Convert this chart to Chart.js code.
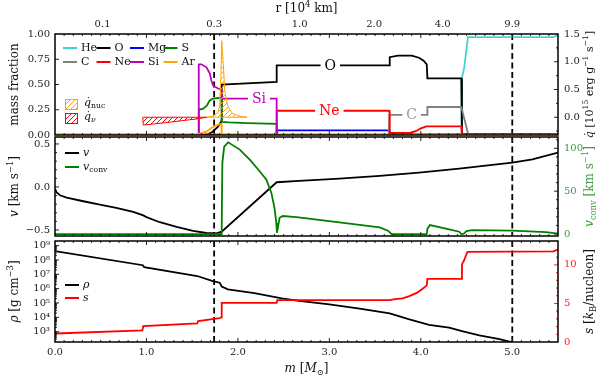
<!DOCTYPE html>
<html>
<head>
<meta charset="utf-8">
<script src="https://cdn.jsdelivr.net/npm/chart.js@4.4.1/dist/chart.umd.min.js"></script>
<style>
  body { margin: 0; background: #fff; }
  #wrap { position: relative; width: 604px; height: 380px; }
  #wrap canvas { position: absolute; left: 0; top: 0; }
</style>
</head>
<body>
<div id="wrap">
  <canvas id="c1" width="604" height="380"></canvas>
  <canvas id="c2" width="604" height="380"></canvas>
  <canvas id="c3" width="604" height="380"></canvas>
</div>
<script>
// ---- panel 1: mass fractions (x = enclosed mass in Msun) ----
const mHe = [0, 4.44, 4.445, 4.475, 4.515, 5.45, 5.5]
const xHe = [0, 0, 0.55, 0.67, 0.97, 0.97, 0.99]
const mO = [0, 1.60, 1.66, 1.72, 1.78, 1.81, 1.823, 1.823, 2.424, 2.424, 3.657, 3.66, 3.75, 3.90, 3.98, 4.03, 4.065, 4.072, 4.443, 4.45, 5.5]
const xO = [0, 0, 0.005, 0.03, 0.08, 0.12, 0.145, 0.50, 0.525, 0.69, 0.69, 0.77, 0.785, 0.785, 0.765, 0.735, 0.70, 0.56, 0.56, 0, 0]
const mMg = [0, 2.424, 2.424, 3.657, 3.66, 5.5]
const xMg = [0, 0, 0.045, 0.045, 0.005, 0.005]
const mS = [0, 1.565, 1.572, 1.62, 1.66, 1.69, 1.725, 1.823, 1.823, 1.9, 2.1, 2.424, 2.424, 5.5]
const xS = [0, 0, 0.25, 0.26, 0.29, 0.34, 0.36, 0.37, 0.13, 0.125, 0.118, 0.11, 0, 0]
const mC = [0, 3.65, 3.657, 4.072, 4.072, 4.443, 4.47, 4.52, 5.5]
const xC = [0.005, 0.005, 0.2, 0.2, 0.277, 0.277, 0.18, 0, 0]
const mNe = [0, 2.424, 2.424, 3.657, 3.66, 3.88, 3.95, 4.0, 4.06, 4.443, 4.45, 5.5]
const xNe = [0, 0, 0.24, 0.24, 0.02, 0.02, 0.04, 0.065, 0.085, 0.085, 0.01, 0.01]
const mSi = [0, 1.565, 1.572, 1.60, 1.656, 1.692, 1.71, 1.728, 1.783, 1.823, 1.823, 2.424, 2.424, 5.5]
const xSi = [0, 0, 0.70, 0.70, 0.67, 0.61, 0.54, 0.49, 0.46, 0.45, 0.36, 0.36, 0, 0]
const mAr = [0, 1.565, 1.572, 1.65, 1.71, 1.78, 1.82, 1.823, 5.5]
const xAr = [0, 0, 0.01, 0.03, 0.07, 0.10, 0.11, 0, 0]

// heating / cooling rates, 1e15 erg/g/s
const mQnuc = [1.66, 1.72, 1.78, 1.80, 1.815, 1.823, 1.84, 1.855, 1.89, 1.94, 2.02, 2.1]
const qNuc = [0, 0.02, 0.08, 0.2, 0.8, 1.38, 0.97, 0.49, 0.19, 0.07, 0.02, 0]
const mQnu = [0.96, 0.965, 1.2, 1.4, 1.55, 1.66]
const qNu = [0, -0.14, -0.10, -0.06, -0.03, 0]

// ---- panel 2: velocities ----
const mV = [0, 0.018, 0.055, 0.127, 0.31, 0.49, 0.67, 0.855, 0.965, 1.0, 1.146, 1.33, 1.51, 1.656, 1.765, 1.823, 2.424, 2.67, 3.11, 3.55, 3.98, 4.42, 5.0, 5.22, 5.5]
const vel = [-0.02, -0.065, -0.097, -0.123, -0.166, -0.205, -0.244, -0.29, -0.33, -0.35, -0.41, -0.465, -0.51, -0.535, -0.54, -0.52, 0.055, 0.07, 0.098, 0.128, 0.167, 0.214, 0.283, 0.32, 0.40]
const mVc = [0, 1.818, 1.823, 1.83, 1.85, 1.893, 2.02, 2.13, 2.24, 2.31, 2.366, 2.40, 2.42, 2.427, 2.456, 2.49, 2.64, 3.11, 3.55, 3.64, 3.68, 4.065, 4.072, 4.1, 4.31, 4.42, 4.443, 4.47, 4.50, 4.56, 5.0, 5.37, 5.5]
const vConv = [0, 0, 10, 83, 102, 107, 98.5, 86.8, 73, 63.6, 48, 30.6, 13, 1.5, 19, 21, 19.8, 13.6, 7.8, 3.9, 0, 0, 6, 10.5, 5.4, 2.7, 0, 0.5, 3.5, 4.6, 4, 2.3, 0.5]

// ---- panel 3: density and entropy ----
const mRho = [0, 0.96, 0.975, 1.555, 1.725, 1.80, 1.823, 1.89, 2.18, 2.48, 2.67, 3.0, 3.33, 3.66, 3.875, 4.09, 4.31, 4.45, 4.64, 4.86, 5.0, 5.5]
const rho = [4.2e8, 4.3e7, 3.2e7, 7.6e6, 3.4e6, 2.6e6, 1.4e6, 8.9e5, 4.8e5, 2.1e5, 1.4e5, 8.1e4, 4.0e4, 1.9e4, 7.2e3, 3.0e3, 1.9e3, 1.1e3, 5.6e2, 3.0e2, 1.8e2, 2.0e1]
const mEnt = [0, 0.955, 0.965, 1.555, 1.565, 1.80, 1.818, 1.823, 2.424, 2.43, 3.66, 3.72, 3.80, 3.875, 3.96, 4.02, 4.065, 4.072, 4.443, 4.45, 4.47, 4.51, 5.45, 5.5]
const ent = [1.1, 1.5, 2.05, 2.4, 2.7, 3.1, 3.2, 5.08, 5.08, 5.44, 5.44, 5.55, 5.65, 5.96, 6.4, 6.9, 7.35, 8.2, 8.2, 10.1, 10.5, 11.7, 11.75, 12.0]

// top axis: radius (1e4 km) at given mass coordinate
const rTickM = [0.52, 1.74, 2.675, 3.49, 4.24, 5.0]
const rTickLabels = ['0.1', '0.3', '1.0', '2.0', '4.0', '9.9']
const markers = [1.74, 5.0]

const spNames = ['He', 'O', 'Mg', 'S', 'C', 'Ne', 'Si', 'Ar']
const spColors = ['#48d1cc', '#000000', '#0000ff', '#008000', '#808080', '#ff0000', '#c000c0', '#ffa500']
const spM = [mHe, mO, mMg, mS, mC, mNe, mSi, mAr]
const spX = [xHe, xO, xMg, xS, xC, xNe, xSi, xAr]

const inlineText = ['O', 'Si', 'Ne', 'C']
const inlineM = [3.01, 2.23, 3.0, 3.9]
const inlineY = [0.69, 0.36, 0.24, 0.2]
const inlineColor = ['#000', '#c000c0', '#ff0000', '#999']

const SERIF = '"DejaVu Serif"'
const tickFont = { family: 'DejaVu Serif', size: 10 }
const GREEN = '#008000'
const SUPS = '⁰¹²³⁴⁵⁶⁷⁸⁹'
const sup = n => String(n).split('').map(d => SUPS[+d]).join('')
const isMult = (v, s) => Math.abs(v / s - Math.round(v / s)) < 1e-6
const fmtSigned = v => (v < -1e-9 ? '\u2212' : '') + Math.abs(v).toFixed(1)

Chart.defaults.font.family = 'DejaVu Serif'
Chart.defaults.animation = false

function hatch(ctx, color) {
  const t = document.createElement('canvas')
  t.width = 5; t.height = 5
  const g = t.getContext('2d')
  g.strokeStyle = color; g.lineWidth = 1
  g.beginPath()
  g.moveTo(0, 5); g.lineTo(5, 0)
  g.moveTo(-1, 1); g.lineTo(1, -1)
  g.moveTo(4, 6); g.lineTo(6, 4)
  g.stroke()
  return ctx.createPattern(t, 'repeat')
}

function line(ms, vals, color, yAxisID, order, extra) {
  return Object.assign({
    data: ms.map((m, i) => ({ x: m, y: vals[i] })),
    borderColor: color, borderWidth: 1.8, pointRadius: 0, tension: 0,
    fill: false, yAxisID: yAxisID, order: order
  }, extra || {})
}

function mAxis(h, show) {
  return {
    type: 'linear', position: 'bottom', min: 0, max: 5.5,
    grid: { display: false, drawTicks: false }, border: { display: false },
    ticks: {
      stepSize: 0.1, autoSkip: false, maxRotation: 0, display: show, padding: 4,
      includeBounds: false, font: tickFont, color: '#222',
      callback: v => isMult(v, 1) ? v.toFixed(1) : ''
    },
    afterFit: s => { s.height = h }
  }
}

function yAxis(pos, w, min, max, step, cb, color) {
  return {
    type: 'linear', position: pos, min: min, max: max,
    grid: { display: false, drawTicks: false }, border: { display: false },
    ticks: {
      stepSize: step, autoSkip: false, includeBounds: false, padding: pos === 'left' ? 5 : 6,
      font: tickFont, color: color || '#222', callback: cb
    },
    afterFit: s => { s.width = w }
  }
}

// rich text: parts = [text, style]; style r | i | sup | sub | isub
function drawRich(ctx, parts, x, y, rot, color, size, align) {
  const fontFor = st => {
    const small = st === 'sup' || st === 'sub' || st === 'isub'
    const it = st === 'i' || st === 'isub' ? 'italic ' : ''
    return it + (small ? size * 0.7 : size) + 'px ' + SERIF
  }
  ctx.save()
  let w = 0
  parts.forEach(p => { ctx.font = fontFor(p[1]); w += ctx.measureText(p[0]).width })
  ctx.translate(x, y)
  ctx.rotate(rot)
  ctx.fillStyle = color
  ctx.textBaseline = 'middle'
  ctx.textAlign = 'left'
  let cx = align === 'left' ? 0 : -w / 2
  parts.forEach(p => {
    ctx.font = fontFor(p[1])
    let dy = 0
    if (p[1] === 'sup') dy = -size * 0.35
    if (p[1] === 'sub' || p[1] === 'isub') dy = size * 0.28
    ctx.fillText(p[0], cx, dy)
    cx += ctx.measureText(p[0]).width
  })
  ctx.restore()
}

function legendLine(ctx, x, y, color, parts) {
  ctx.save()
  ctx.strokeStyle = color; ctx.lineWidth = 2
  ctx.beginPath(); ctx.moveTo(x, y); ctx.lineTo(x + 14, y); ctx.stroke()
  ctx.restore()
  drawRich(ctx, parts, x + 18, y, 0, '#111', 11, 'left')
}

// frame, inward ticks and the dashed marker lines
const frame = {
  id: 'frame',
  beforeDatasetsDraw(chart) {
    const { ctx, chartArea: a } = chart
    const xs = chart.scales.x
    ctx.save()
    ctx.strokeStyle = '#000'; ctx.lineWidth = 1.8; ctx.setLineDash([6, 3.5])
    markers.forEach(m => {
      const px = xs.getPixelForValue(m)
      ctx.beginPath(); ctx.moveTo(px, a.top); ctx.lineTo(px, a.bottom); ctx.stroke()
    })
    ctx.restore()
  },
  afterDraw(chart) {
    const { ctx, chartArea: a } = chart
    ctx.save()
    Object.values(chart.scales).forEach(sc => {
      if (sc.id === 'xr') return
      const horiz = sc.isHorizontal()
      ctx.strokeStyle = sc.id === 's' ? '#f22' : '#222'
      ctx.lineWidth = 1
      sc.ticks.forEach(t => {
        const p = sc.getPixelForValue(t.value)
        if (horiz ? (p < a.left + 1 || p > a.right - 1) : (p < a.top + 1 || p > a.bottom - 1)) return
        const len = t.label !== '' ? 4 : 2
        ctx.beginPath()
        if (horiz) {
          ctx.moveTo(p, a.bottom); ctx.lineTo(p, a.bottom - len)
          ctx.moveTo(p, a.top); ctx.lineTo(p, a.top + len)
        } else if (sc.position === 'left') {
          ctx.moveTo(a.left, p); ctx.lineTo(a.left + len, p)
        } else {
          ctx.moveTo(a.right, p); ctx.lineTo(a.right - len, p)
        }
        ctx.stroke()
      })
    })
    ctx.lineWidth = 1.5; ctx.strokeStyle = '#000'
    ctx.strokeRect(a.left, a.top, a.right - a.left, a.bottom - a.top)
    ctx.restore()
  }
}

const baseOpts = (padding, scales) => ({
  responsive: false, animation: false, events: [],
  layout: { padding: padding },
  plugins: { legend: { display: false }, tooltip: { enabled: false } },
  scales: scales
})

// ---------- chart 1 ----------
const ctx1 = document.getElementById('c1').getContext('2d')
const hatchNuc = hatch(ctx1, '#ffa500')
const hatchNu = hatch(ctx1, '#ff0000')

const ds1 = spNames.map((n, i) => line(spM[i], spX[i], spColors[i], 'y', 50 - i))
ds1.push(line(mQnuc, qNuc, '#ffa500', 'yq', 5, { borderWidth: 1, fill: { value: 0 }, backgroundColor: hatchNuc }))
ds1.push(line(mQnuc, mQnuc.map(() => 0), '#ffa500', 'yq', 5, { borderWidth: 1 }))
ds1.push(line(mQnu, qNu, '#ff0000', 'yq', 6, { borderWidth: 1, fill: { value: 0 }, backgroundColor: hatchNu }))
ds1.push(line(mQnu, mQnu.map(() => 0), '#ff0000', 'yq', 6, { borderWidth: 1 }))

new Chart(ctx1, {
  type: 'line',
  data: { datasets: ds1 },
  options: baseOpts({ top: 0, left: 0, right: 0, bottom: 245 }, {
    x: mAxis(0, false),
    xr: {
      type: 'linear', position: 'top', min: 0, max: 5.5,
      grid: { display: false, drawTicks: false }, border: { display: false },
      afterBuildTicks: s => { s.ticks = rTickM.map(v => ({ value: v })) },
      ticks: {
        autoSkip: false, maxRotation: 0, padding: 4, font: tickFont, color: '#222',
        callback: (v, i) => rTickLabels[i]
      },
      afterFit: s => { s.height = 34 }
    },
    y: yAxis('left', 55, 0, 1, 0.25, v => v.toFixed(2)),
    yq: yAxis('right', 46, -0.32, 1.5, 0.25, v => (v > -1e-9 && isMult(v, 0.5)) ? v.toFixed(1) : '')
  }),
  plugins: [frame, {
    id: 'extra1',
    afterDraw(chart) {
      const ctx = chart.ctx, xs = chart.scales.x, ys = chart.scales.y, a = chart.chartArea
      ctx.save()
      ctx.font = '14px ' + SERIF
      ctx.textAlign = 'center'; ctx.textBaseline = 'middle'
      inlineText.forEach((t, i) => {
        const px = xs.getPixelForValue(inlineM[i]), py = ys.getPixelForValue(inlineY[i])
        const w = ctx.measureText(t).width + 8
        ctx.fillStyle = '#fff'
        ctx.fillRect(px - w / 2, py - 6, w, 12)
        ctx.fillStyle = inlineColor[i]
        ctx.fillText(t, px, py + 1)
      })
      ctx.restore()

      spNames.forEach((n, i) => {
        legendLine(ctx, 63 + 33.5 * (i % 4), 48 + 14 * Math.floor(i / 4), spColors[i], [[n, 'r']])
      })
      ctx.save()
      ctx.fillStyle = hatchNuc; ctx.fillRect(65, 99, 12, 10)
      ctx.strokeStyle = '#ffa500'; ctx.lineWidth = 1; ctx.strokeRect(65.5, 99.5, 12, 10)
      ctx.fillStyle = hatchNu; ctx.fillRect(65, 113, 12, 10)
      ctx.strokeStyle = '#ff0000'; ctx.strokeRect(65.5, 113.5, 12, 10)
      ctx.restore()
      drawRich(ctx, [['q\u0307', 'i'], ['nuc', 'sub']], 84, 103, 0, '#111', 11, 'left')
      drawRich(ctx, [['q\u0307', 'i'], ['\u03bd', 'isub']], 84, 117, 0, '#111', 11, 'left')

      const cy = (a.top + a.bottom) / 2
      drawRich(ctx, [['mass fraction', 'r']], 15, cy, -Math.PI / 2, '#111', 12)
      drawRich(ctx, [['q\u0307', 'i'], [' [10', 'r'], ['15', 'sup'], [' erg g', 'r'], ['\u22121', 'sup'],
        [' s', 'r'], ['\u22121', 'sup'], [']', 'r']], 590, cy, -Math.PI / 2, '#111', 11)
      drawRich(ctx, [['r [10', 'r'], ['4', 'sup'], [' km]', 'r']], (a.left + a.right) / 2, 9, 0, '#111', 12)
    }
  }]
})

// ---------- chart 2 ----------
const ctx2 = document.getElementById('c2').getContext('2d')
new Chart(ctx2, {
  type: 'line',
  data: {
    datasets: [
      line(mV, vel, '#000', 'y', 2),
      line(mVc, vConv, GREEN, 'yc', 1)
    ]
  },
  options: baseOpts({ top: 137, left: 0, right: 0, bottom: 144 }, {
    x: mAxis(0, false),
    y: yAxis('left', 55, -0.57, 0.581, 0.1, v => isMult(v, 0.5) ? fmtSigned(v) : ''),
    yc: yAxis('right', 46, -2.3, 113.2, 10, v => isMult(v, 50) ? String(Math.round(v)) : '', '#3c9c3c')
  }),
  plugins: [frame, {
    id: 'extra2',
    afterDraw(chart) {
      const ctx = chart.ctx, a = chart.chartArea
      legendLine(ctx, 65, 153, '#000', [['v', 'i']])
      legendLine(ctx, 65, 167, GREEN, [['v', 'i'], ['conv', 'sub']])
      const cy = (a.top + a.bottom) / 2
      drawRich(ctx, [['v', 'i'], [' [km s', 'r'], ['\u22121', 'sup'], [']', 'r']], 15, cy, -Math.PI / 2, '#111', 12)
      drawRich(ctx, [['v', 'i'], ['conv', 'sub'], [' [km s', 'r'], ['\u22121', 'sup'], [']', 'r']],
        590, cy, -Math.PI / 2, '#3c9c3c', 12)
    }
  }]
})

// ---------- chart 3 ----------
const ctx3 = document.getElementById('c3').getContext('2d')
new Chart(ctx3, {
  type: 'line',
  data: {
    datasets: [
      line(mRho, rho, '#000', 'y', 2),
      line(mEnt, ent, '#ff0000', 's', 1)
    ]
  },
  options: baseOpts({ top: 241, left: 0, right: 0, bottom: 0 }, {
    x: mAxis(38, true),
    y: {
      type: 'logarithmic', position: 'left', min: 190, max: 2.1e9,
      grid: { display: false, drawTicks: false }, border: { display: false },
      afterBuildTicks: s => {
        const t = []
        for (let e = 2; e <= 9; e++) {
          for (let k = 1; k < 10; k++) {
            const v = k * Math.pow(10, e)
            if (v >= s.min && v <= s.max) t.push({ value: v })
          }
        }
        s.ticks = t
      },
      ticks: {
        autoSkip: false, padding: 5, font: tickFont, color: '#222',
        callback: v => {
          const l = Math.log10(v)
          return Math.abs(l - Math.round(l)) < 1e-6 ? '10' + sup(Math.round(l)) : ''
        }
      },
      afterFit: s => { s.width = 55 }
    },
    s: yAxis('right', 46, 0, 13.1, 1, v => isMult(v, 5) ? String(Math.round(v)) : '', '#f22')
  }),
  plugins: [frame, {
    id: 'extra3',
    afterDraw(chart) {
      const ctx = chart.ctx, a = chart.chartArea
      legendLine(ctx, 65, 285, '#000', [['\u03c1', 'i']])
      legendLine(ctx, 65, 298, '#ff0000', [['s', 'i']])
      const cy = (a.top + a.bottom) / 2
      drawRich(ctx, [['\u03c1', 'i'], [' [g cm', 'r'], ['\u22123', 'sup'], [']', 'r']], 15, cy, -Math.PI / 2, '#111', 12)
      drawRich(ctx, [['s', 'i'], [' [', 'r'], ['k', 'i'], ['B', 'sub'], ['/nucleon]', 'r']],
        590, cy, -Math.PI / 2, '#111', 12)
      drawRich(ctx, [['m', 'i'], [' [', 'r'], ['M', 'i'], ['\u2299', 'sub'], [']', 'r']],
        (a.left + a.right) / 2, 369, 0, '#111', 12)
    }
  }]
})
</script>
</body>
</html>
